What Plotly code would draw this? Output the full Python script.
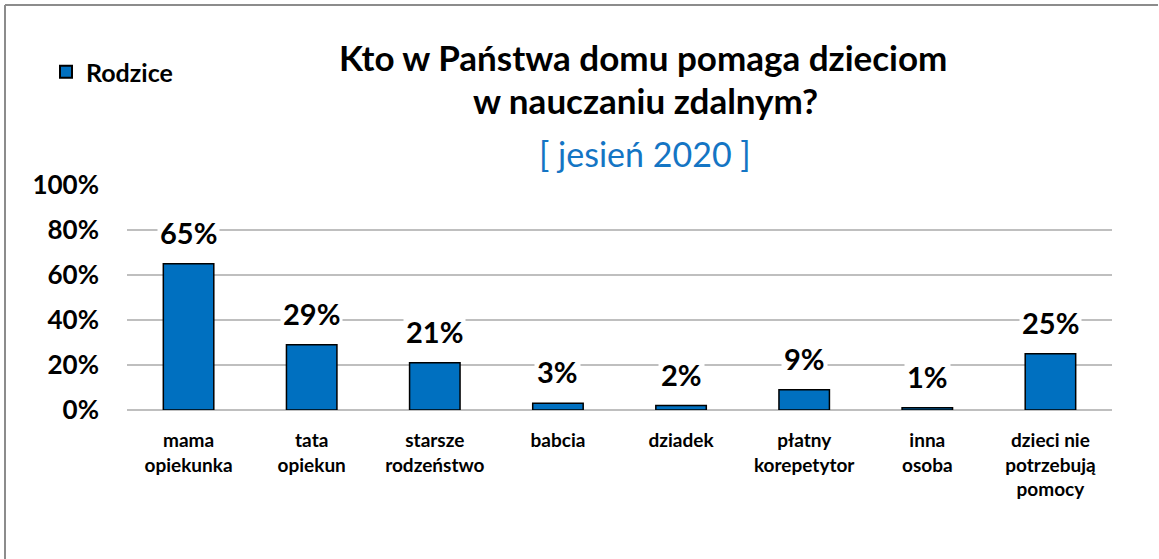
import plotly.graph_objects as go

categories = ["mama<br>opiekunka", "tata<br>opiekun", "starsze<br>rodzeństwo", "babcia", "dziadek",
              "płatny<br>korepetytor", "inna<br>osoba", "dzieci nie<br>potrzebują<br>pomocy"]
values = [65, 29, 21, 3, 2, 9, 1, 25]
series_name = "Rodzice"
y_ticks = [0, 20, 40, 60, 80, 100]
y_tick_labels = ["0%", "20%", "40%", "60%", "80%", "100%"]
title_lines = ["Kto w Państwa domu pomaga dzieciom", "w nauczaniu zdalnym?"]
subtitle = "[ jesień 2020 ]"

W, H = 1159, 559
L, R, T, B = 127, 47, 185, 149
pw, ph = W - L - R, H - T - B

def px(x):
    return (x - L) / pw

def py(y):
    return (H - B - y) / ph

FONT = "Lato"
x_idx = list(range(len(categories)))

fig = go.Figure()
fig.add_trace(go.Bar(
    x=x_idx, y=values, name=f"<b>{series_name}</b>",
    marker=dict(color="#0070C0", line=dict(color="#000000", width=1.5)),
    width=0.41, showlegend=True, hoverinfo="skip",
))

for i, v in zip(x_idx, values):
    fig.add_annotation(x=i, y=v, xref="x", yref="y", text=f"<b>{v}%</b>",
                       showarrow=False, yanchor="bottom", yshift=11,
                       bgcolor="white", borderpad=2,
                       font=dict(family=FONT, size=29, color="#000000"))

# titles
fig.add_annotation(x=px(643), y=py(57), xref="paper", yref="paper", text=f"<b>{title_lines[0]}</b>",
                   showarrow=False, xanchor="center", yanchor="middle",
                   font=dict(family=FONT, size=35, color="#000000"))
fig.add_annotation(x=px(645), y=py(100), xref="paper", yref="paper", text=f"<b>{title_lines[1]}</b>",
                   showarrow=False, xanchor="center", yanchor="middle",
                   font=dict(family=FONT, size=35, color="#000000"))
fig.add_annotation(x=px(645), y=py(153), xref="paper", yref="paper", text=subtitle,
                   showarrow=False, xanchor="center", yanchor="middle",
                   font=dict(family=FONT, size=34, color="#1475C4"))

# border (top and left)
fig.add_shape(type="line", xref="paper", yref="paper", x0=px(5), x1=px(1158), y0=py(5), y1=py(5),
              line=dict(color="#8C8C8C", width=2))
fig.add_shape(type="line", xref="paper", yref="paper", x0=px(5), x1=px(5), y0=py(5), y1=py(559),
              line=dict(color="#8C8C8C", width=2))

fig.update_layout(
    width=W, height=H,
    margin=dict(l=L, r=R, t=T, b=B, autoexpand=False),
    paper_bgcolor="white", plot_bgcolor="white",
    legend=dict(x=px(46), y=py(72), xanchor="left", yanchor="middle",
                font=dict(family=FONT, size=25, color="#000000"),
                bgcolor="rgba(0,0,0,0)", itemsizing="constant"),
    xaxis=dict(tickmode="array", tickvals=x_idx, ticktext=[f"<b>{c}</b>" for c in categories],
               range=[-0.5, len(categories) - 0.5], showgrid=False, zeroline=False,
               showline=False, ticks="", ticklabelstandoff=17,
               tickfont=dict(family=FONT, size=19, color="#000000")),
    yaxis=dict(range=[0, 100], tickmode="array", tickvals=y_ticks,
               ticktext=[f"<b>{t}</b>" for t in y_tick_labels],
               showgrid=True, gridcolor="#BFBFBF", gridwidth=1.5,
               zeroline=True, zerolinecolor="#BFBFBF", zerolinewidth=1.5,
               showline=False, ticks="", ticklabelstandoff=27,
               tickfont=dict(family=FONT, size=26, color="#000000")),
)

fig.write_html("out.html", config={"displayModeBar": False},
               post_script="document.body.style.margin='0px';")
